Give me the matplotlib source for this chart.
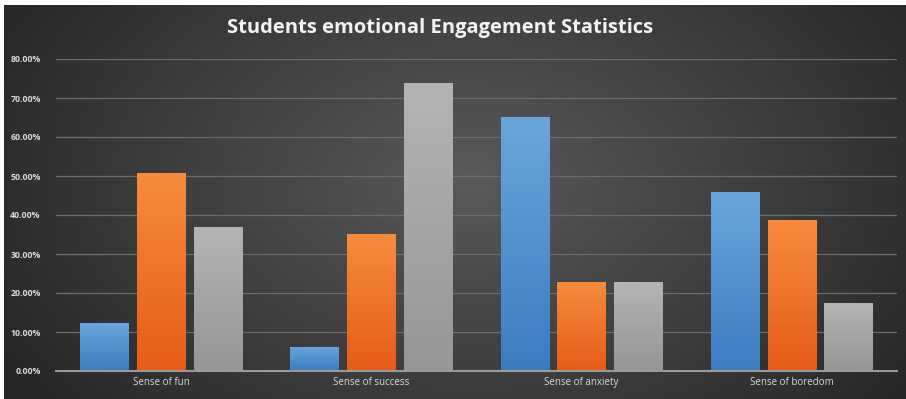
import numpy as np
import matplotlib
matplotlib.use("Agg")
import matplotlib.pyplot as plt
from matplotlib.colors import LinearSegmentedColormap
from matplotlib.ticker import FuncFormatter

categories = ["Sense of fun", "Sense of success", "Sense of anxiety", "Sense of boredom"]
series_a = [0.123, 0.062, 0.651, 0.459]
series_b = [0.508, 0.351, 0.228, 0.387]
series_c = [0.369, 0.738, 0.228, 0.174]
yticks = [0.0, 0.1, 0.2, 0.3, 0.4, 0.5, 0.6, 0.7, 0.8]

series = [series_a, series_b, series_c]
gradients = [("#6aa6dc", "#3b7cc0"), ("#f68c3c", "#e65c17"), ("#b4b4b4", "#969696")]

W, H, DPI = 906, 399, 100
fig = plt.figure(figsize=(W / DPI, H / DPI), dpi=DPI)

# radial dark background, lighter towards the middle
bg = fig.add_axes([0, 0, 1, 1])
yy, xx = np.mgrid[0:H, 0:W]
r = np.sqrt(((xx - W * 0.52) / (W * 0.6)) ** 2 + ((yy - H * 0.45) / (H * 0.9)) ** 2)
shade = np.clip(0.35 - 0.20 * r, 0.15, 0.35)
img = np.dstack([shade, shade, shade])
bg.imshow(img, extent=[0, 1, 0, 1], aspect="auto", origin="upper")
bg.set_xlim(0, 1)
bg.set_ylim(0, 1)
bg.axis("off")
# thin white margin along top and left edges
bg.add_patch(plt.Rectangle((0, 1 - 5 / H), 1, 5 / H, color="white", lw=0))
bg.add_patch(plt.Rectangle((0, 0), 4 / W, 1, color="white", lw=0))

ax = fig.add_axes([56 / W, (H - 371) / H, (897 - 56) / W, (371 - 59) / H])
ax.patch.set_alpha(0)
x = np.arange(len(categories))
width = 0.23
offsets = [-0.27, 0.0, 0.27]

for vals, off, (top_c, bot_c) in zip(series, offsets, gradients):
    bars = ax.bar(x + off, vals, width=width, color=bot_c, zorder=3)
    cmap = LinearSegmentedColormap.from_list("g", [bot_c, top_c])
    grad = np.linspace(0, 1, 256).reshape(-1, 1)
    for b in bars:
        x0, y0 = b.get_x(), b.get_y()
        im = ax.imshow(grad, cmap=cmap, origin="lower", aspect="auto",
                       extent=[x0, x0 + b.get_width(), y0, y0 + b.get_height()],
                       zorder=4)
        im.set_clip_path(b)

ax.set_xlim(-0.5, len(categories) - 0.5)
ax.set_ylim(0, 0.8)
ax.set_yticks(yticks)
ax.yaxis.set_major_formatter(FuncFormatter(lambda v, p: f"{v * 100:.2f}%"))
ax.set_xticks(x)
ax.set_xticklabels(categories)
ax.grid(axis="y", color="#6c6c6c", lw=0.9, zorder=0)
for s in ["top", "right", "left"]:
    ax.spines[s].set_visible(False)
ax.spines["bottom"].set_color("#9a9a9a")
ax.spines["bottom"].set_linewidth(1.5)
ax.spines["bottom"].set_zorder(5)
ax.tick_params(axis="both", length=0, colors="#d9d9d9", labelsize=7)
ax.tick_params(axis="y", pad=11, labelsize=6.3)
ax.tick_params(axis="x", pad=4)
for lab in ax.get_yticklabels():
    lab.set_fontweight("bold")
    lab.set_fontfamily("Open Sans")
for lab in ax.get_xticklabels():
    lab.set_fontfamily("Open Sans")

fig.text(440 / W, 1 - 28 / H, "Students emotional Engagement Statistics",
         ha="center", va="center", color="#f2f2f2", fontsize=14.5,
         fontweight="bold", family="Open Sans")

fig.savefig("out.png", dpi=DPI)
